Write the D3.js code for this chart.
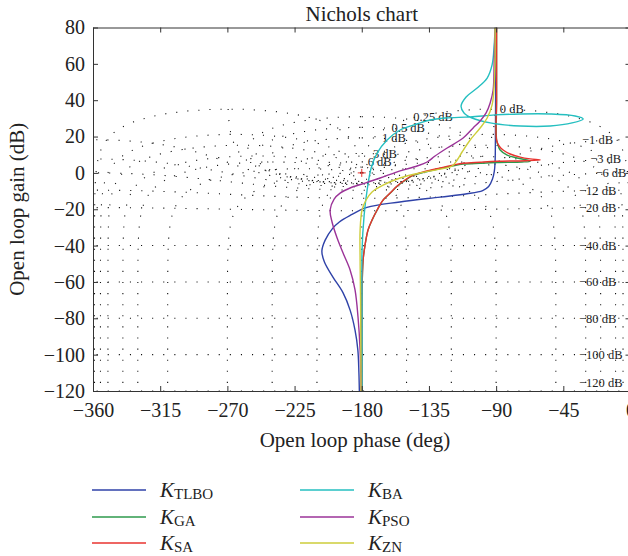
<!DOCTYPE html>
<html>
<head>
<meta charset="utf-8">
<script src="https://cdn.jsdelivr.net/npm/d3@7"></script>
<style>
  body { margin: 0; background: #fff; }
  text { font-family: "Liberation Serif", "Times New Roman", serif; fill: #222; }
</style>
</head>
<body>
<div id="chart"></div>
<script>
// open loop responses, [phase (deg), gain (dB)]
const tlbo = [[-90.3,80],[-90.3,50],[-90.4,30],[-90.5,15],[-90.7,6],[-91.2,1],[-92.5,-3.5],[-95,-7.5],[-99,-9.7],[-109.5,-11.5],[-127.5,-13.3],[-154.5,-16],[-176.5,-19],[-188,-23.5],[-195,-27],[-199.5,-30.5],[-204.5,-37],[-206.7,-43],[-205,-49],[-199.3,-57.3],[-192.5,-66],[-187.8,-75.5],[-184.5,-86.5],[-182.6,-97.5],[-181.9,-110],[-181.6,-120]];
const ga = [[-89.7,80],[-89.7,40],[-89.7,18.1],[-89,15.9],[-87.3,12.6],[-82.6,9.8],[-75.9,8.2],[-67.2,6.5],[-72.6,6],[-89.3,5.7],[-100.7,5.3],[-112.1,4.8],[-118.8,3.9],[-127.5,2.4],[-137.6,0.5],[-145.6,-1.4],[-151,-4.1],[-156.3,-7.3],[-161,-11.2],[-165.7,-15],[-169.7,-20.5],[-173.1,-26],[-175.8,-31.5],[-177.8,-39.7],[-179.1,-48],[-179.8,-64.4],[-179.8,-120]];
const sa = [[-89.7,80],[-89.7,40],[-89.7,18.1],[-88,14.8],[-85.3,12.6],[-80.6,10.4],[-73.9,8.7],[-67.2,7.7],[-60.5,7.1],[-70.6,6.7],[-89.3,6.4],[-100.7,5.9],[-112.1,5.3],[-118.8,4.3],[-127.5,2.7],[-137.6,0.8],[-145.6,-1.2],[-151,-3.9],[-156.3,-7.2],[-161,-11.1],[-165.7,-14.9],[-169.7,-20.4],[-173.1,-25.9],[-175.8,-31.4],[-177.8,-39.7],[-179.1,-47.9],[-179.8,-64.4],[-179.8,-120]];
const ba = [[-90.7,80],[-91.3,70.4],[-92.7,59.4],[-96,52.2],[-102.7,46.7],[-110.1,41.8],[-113.5,36.8],[-111.5,33],[-106.1,30.2],[-94,27.5],[-73.9,25.8],[-53.8,25.8],[-39.1,27.5],[-31.7,29.7],[-37.1,31.3],[-53.8,32.4],[-73.9,32.4],[-90.7,31.9],[-107.4,30.8],[-124.2,30.2],[-134.2,29.1],[-142.9,26.9],[-154.3,23.6],[-163,18.1],[-169.7,10.9],[-173.7,2.7],[-176.4,-9.4],[-178.4,-23.2],[-179.8,-42.4],[-179.8,-70],[-179.8,-120]];
const pso = [[-90.7,80],[-91.3,62],[-92,45.6],[-94,38.5],[-96.7,33],[-100.7,28.6],[-105.4,24.7],[-112.1,19.2],[-122.8,13.7],[-130.9,9.3],[-136.2,6],[-142.9,3.8],[-154.3,1.1],[-167.7,-2.8],[-177.8,-5.6],[-187.8,-8.3],[-194.5,-11.1],[-198.5,-14.4],[-201.2,-20.4],[-199.9,-27],[-196.5,-35.8],[-192.5,-44.1],[-187.8,-53.4],[-184.5,-64.4],[-182.5,-79.3],[-181.1,-97.5],[-180.5,-120]];
const zn = [[-90.7,80],[-90.7,62.1],[-91.3,48.4],[-92.7,37.4],[-96,30.2],[-100.7,24.7],[-107.4,18.1],[-112.8,11.5],[-116.1,7.1],[-119.5,3.8],[-127.5,2.1],[-140.9,0],[-154.3,-2.8],[-165.7,-6.7],[-173.1,-10.5],[-177.1,-14.9],[-179.8,-20.4],[-181.1,-31.4],[-181.1,-47.9],[-180.8,-70],[-180.5,-120]];

const names = ["TLBO", "GA", "SA", "BA", "PSO", "ZN"];
const clrs = ["#2f42a8", "#2e9a4c", "#e8332f", "#25bfc0", "#9b3398", "#cdcd3a"];

const xTicks = [-360, -315, -270, -225, -180, -135, -90, -45, 0];
const yTicks = [-120, -100, -80, -60, -40, -20, 0, 20, 40, 60, 80];

// Nichols grid levels: closed loop gain (dB) and closed loop phase (deg)
const gridGains = [6, 3, 1, 0.5, 0.25, 0, -1, -3, -6, -12, -20, -40, -60, -80, -100, -120];
const gridPhases = [1, 5, 10, 20, 30, 50, 90, 120, 150, 180];

const series = [tlbo, ga, sa, ba, pso, zn];

let W = 628, H = 556;
let pLeft = 93, pRight = 630.5, pTop = 27.5, pBottom = 391;

let x = d3.scaleLinear().domain([-360, 0]).range([pLeft, pRight]);
let y = d3.scaleLinear().domain([-120, 80]).range([pBottom, pTop]);

let svg = d3.select("#chart").append("svg")
    .attr("width", W)
    .attr("height", H);

svg.append("clipPath").attr("id", "clip")
  .append("rect")
    .attr("x", pLeft).attr("y", pTop)
    .attr("width", pRight - pLeft).attr("height", pBottom - pTop);

const rad = Math.PI / 180;

// constant closed loop gain contour
function mContour(db) {
  let M = Math.pow(10, db / 20), pts = [], n = 1440;
  for (let i = 0; i <= n; i++) {
    let th = db === 0 ? (1 + 358 * i / n) * rad : -2 * Math.PI * i / n;
    let a = M * Math.cos(th), b = M * Math.sin(th);
    let d = (1 - a) * (1 - a) + b * b;
    let re = (a - M * M) / d, im = b / d;
    let g = 10 * Math.log10(re * re + im * im);
    let p;
    if (M < 1) p = (th - Math.atan2(-b, 1 - a)) / rad;
    else {
      p = Math.atan2(im, re) / rad;
      if (p > 0) p -= 360;
    }
    pts.push([p, g]);
  }
  return pts;
}

// constant closed loop phase contour
function nContour(phc) {
  let pts = [], c = phc * rad, n = 4000;
  for (let i = 0; i <= n; i++) {
    let r = Math.pow(10, -7 + 11 * i / n);
    let a = r * Math.cos(c), b = r * Math.sin(c);
    let d = (1 - a) * (1 - a) + b * b;
    pts.push([phc - Math.atan2(-b, 1 - a) / rad, 10 * Math.log10(r * r / d)]);
  }
  return pts;
}

let gridLine = d3.line().x(d => x(d[0])).y(d => y(d[1]));

let grid = svg.append("g").attr("clip-path", "url(#clip)")
    .attr("fill", "none")
    .attr("stroke", "#111")
    .attr("stroke-width", 1.1)
    .attr("stroke-dasharray", "1.1 10");

let mLines = gridGains.map(g => ({ db: g, pts: mContour(g) }));
mLines.forEach(m => grid.append("path").attr("d", gridLine(m.pts)));

gridPhases.forEach(p => {
  grid.append("path").attr("d", gridLine(nContour(-p)));
  if (p < 180) grid.append("path").attr("d", gridLine(nContour(p - 360)));
});

// grid labels
const labelPhase = { "6": -176, "3": -172.5, "1": -166.5, "0.5": -160, "0.25": -145.5, "0": -87.5, "-1": -32.5, "-3": -27, "-6": -23.5 };

mLines.forEach(m => {
  let g = m.db >= 0 ? d3.max(m.pts, d => d[1]) : Math.max(m.pts[0][1], -115.5);
  let p = labelPhase[String(m.db)] !== undefined ? labelPhase[String(m.db)] : -34.5;
  svg.append("text")
    .attr("x", x(p))
    .attr("y", y(g))
    .attr("dy", "0.35em")
    .attr("font-size", "12.5px")
    .text((m.db < 0 ? "\u2212" + Math.abs(m.db) : m.db) + " dB");
});

// curves
let line = d3.line()
    .x(d => x(d[0]))
    .y(d => y(d[1]))
    .curve(d3.curveCatmullRom.alpha(0.5));

let curves = svg.append("g").attr("clip-path", "url(#clip)");
series.forEach((s, i) => {
  curves.append("path")
    .attr("d", line(s))
    .attr("fill", "none")
    .attr("stroke", clrs[i])
    .attr("stroke-width", 1.4);
});

// critical point
let cx = x(-180), cy = y(0);
svg.append("path")
  .attr("d", `M${cx - 4},${cy}H${cx + 4}M${cx},${cy - 4}V${cy + 4}`)
  .attr("stroke", "#e8332f")
  .attr("stroke-width", 1);

// axes
let xAxis = svg.append("g")
    .attr("transform", `translate(0, ${ pBottom })`)
    .call(d3.axisBottom(x).tickValues(xTicks).tickSizeInner(-5).tickSizeOuter(0).tickPadding(12));
let xTop = svg.append("g")
    .attr("transform", `translate(0, ${ pTop })`)
    .call(d3.axisTop(x).tickValues(xTicks).tickSizeInner(-5).tickSizeOuter(0).tickFormat(""));
let yAxis = svg.append("g")
    .attr("transform", `translate(${ pLeft }, 0)`)
    .call(d3.axisLeft(y).tickValues(yTicks).tickSizeInner(-5).tickSizeOuter(0).tickPadding(8));
let yRight = svg.append("g")
    .attr("transform", `translate(${ pRight }, 0)`)
    .call(d3.axisRight(y).tickValues(yTicks).tickSizeInner(-5).tickSizeOuter(0).tickFormat(""));

[xAxis, xTop, yAxis, yRight].forEach(a => {
  a.selectAll("path, line").attr("stroke", "#333");
  a.selectAll("text")
    .attr("font-size", "20px")
    .attr("font-family", "'Liberation Serif', serif")
    .attr("fill", "#222");
});

svg.append("text")
  .attr("x", (pLeft + pRight) / 2)
  .attr("y", 21)
  .attr("text-anchor", "middle")
  .attr("font-size", "21px")
  .text("Nichols chart");

svg.append("text")
  .attr("x", 355)
  .attr("y", 447)
  .attr("text-anchor", "middle")
  .attr("font-size", "21px")
  .text("Open loop phase (deg)");

svg.append("text")
  .attr("transform", `translate(24, ${ (pTop + pBottom) / 2 }) rotate(-90)`)
  .attr("text-anchor", "middle")
  .attr("font-size", "21px")
  .text("Open loop gain (dB)");

// legend
let legend = svg.append("g");
names.forEach((n, i) => {
  let lx = [92, 300][Math.floor(i / 3)], ly = [490, 517, 543][i % 3];
  legend.append("line")
    .attr("x1", lx).attr("x2", lx + 54)
    .attr("y1", ly).attr("y2", ly)
    .attr("stroke", clrs[i])
    .attr("stroke-width", 1.6);
  let t = legend.append("text")
    .attr("x", lx + 68)
    .attr("y", ly + 7)
    .attr("font-size", "21px");
  t.append("tspan").attr("font-style", "italic").text("K");
  t.append("tspan").attr("font-size", "15px").attr("dy", 2).text(n);
});
</script>
</body>
</html>
